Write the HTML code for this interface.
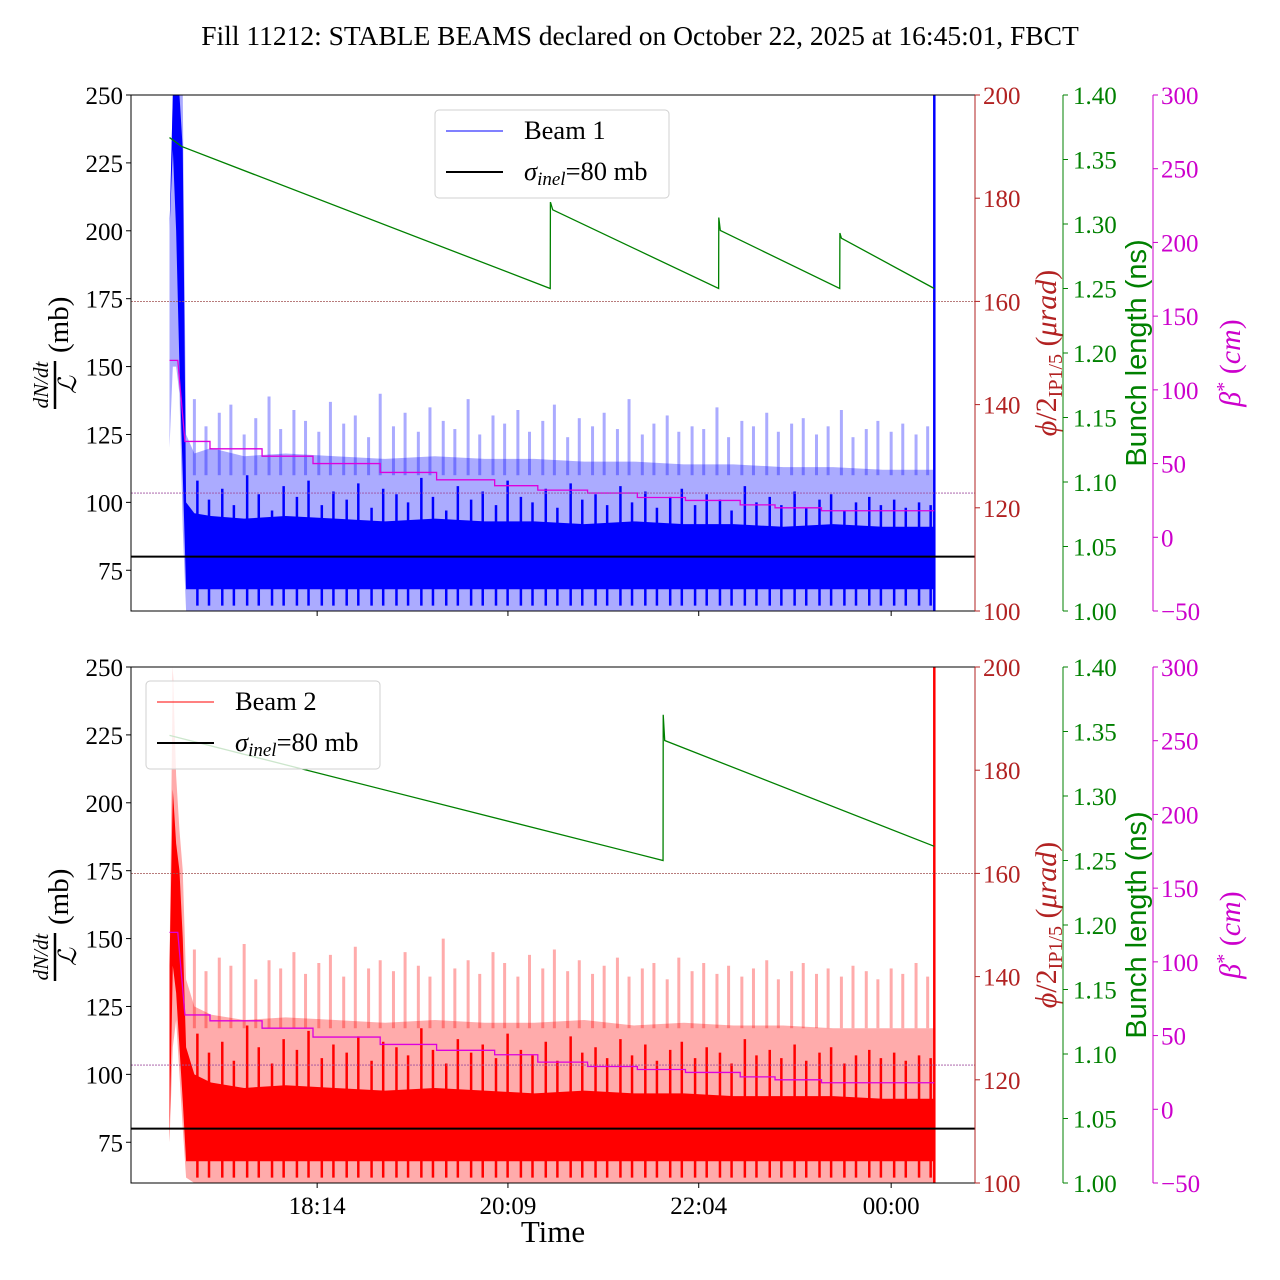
<!DOCTYPE html>
<html><head><meta charset="utf-8">
<style>
html,body{margin:0;padding:0;background:#fff;}
svg{display:block;font-family:"Liberation Serif",serif;}
</style></head>
<body>
<svg id="chart" width="1280" height="1280" viewBox="0 0 1280 1280">
<text x="640" y="45" font-size="27.5" text-anchor="middle">Fill 11212: STABLE BEAMS declared on October 22, 2025 at 16:45:01, FBCT</text>
<text x="553" y="1242" font-size="31" text-anchor="middle">Time</text>
</svg>
<script>
// ---- data (time in minutes since 16:45:01) ----
const xTickLabels = ["18:14","20:09","22:04","00:00"];
const xTickTimes = [89, 204, 319, 435];
const leftTicks = [75,100,125,150,175,200,225,250];
const redTicks = [100,120,140,160,180,200];
const greenTicks = ["1.00","1.05","1.10","1.15","1.20","1.25","1.30","1.35","1.40"];
const magTicks = [-50,0,50,100,150,200,250,300];

const envTimes = [0,2,4,6,8,10,15,25,45,70,100,130,160,190,220,250,280,310,340,370,400,430,455,461];
const b1LightUpper = [200,250,250,250,250,125,118,120,117,118,117,116,117,116,116,115,115,114,114,113,113,112,112,112];
const b1LightLower = [120,150,150,140,90,60,60,60,60,60,60,60,60,60,60,60,60,60,60,60,60,60,60,60];
const b1DarkUpper = [200,250,250,250,230,100,96,95,94,95,94,93,94,93,93,92,93,92,92,91,92,91,91,91];
const b1DarkLower = [200,230,200,150,110,68,68,68,68,68,68,68,68,68,68,68,68,68,68,68,68,68,68,68];
const b2LightUpper = [140,250,210,190,175,135,125,122,120,121,120,119,120,119,119,120,118,119,118,118,117,117,117,117];
const b2LightLower = [75,110,120,100,80,62,60,60,60,60,60,60,60,60,60,60,60,60,60,60,60,60,60,60];
const b2DarkUpper = [140,205,185,175,150,110,100,97,95,96,95,94,95,94,93,94,93,93,92,92,92,91,91,91];
const b2DarkLower = [75,140,130,110,90,68,68,68,68,68,68,68,68,68,68,68,68,68,68,68,68,68,68,68];

const spikeTimes = [15,22,30,37,45,52,60,67,75,82,90,97,105,112,120,127,135,142,150,157,165,172,180,187,195,202,210,217,225,232,240,247,255,262,270,277,285,292,300,307,315,322,330,337,345,352,360,367,375,382,390,397,405,412,420,427,435,442,450,457];
const b1LightSpikes = [138,128,133,136,125,131,139,127,134,130,126,137,129,132,124,140,128,133,126,135,130,127,138,125,132,129,134,126,130,136,124,131,128,133,127,138,125,129,132,126,128,127,135,124,130,128,133,126,129,131,125,128,134,124,127,130,126,129,125,128];
const b1DarkSpikes = [108,101,105,99,110,103,97,106,102,108,99,104,101,107,98,105,103,100,109,102,97,106,101,104,99,108,102,100,105,98,107,101,103,99,106,100,104,98,102,105,99,103,101,97,106,100,102,99,104,98,101,103,97,100,102,99,101,98,100,99];
const b2LightSpikes = [146,138,143,140,148,135,142,139,145,137,141,144,136,147,139,142,138,145,140,136,150,139,142,137,145,141,136,144,139,146,138,142,137,140,143,136,139,141,135,143,138,141,137,140,136,139,142,135,138,141,137,139,136,140,138,135,139,137,141,136];
const b2DarkSpikes = [115,108,112,105,118,110,104,113,109,116,106,111,108,114,105,112,110,107,117,109,104,113,108,111,106,115,109,107,112,105,114,108,110,106,113,107,111,105,109,112,106,110,108,104,113,107,109,106,111,105,108,110,104,107,109,106,108,105,107,106];

const b1GreenT = [0,7.5,229.5,229.6,231,331,331.1,332,404,404.1,405,461];
const b1GreenV = [1.367,1.360,1.250,1.317,1.311,1.250,1.305,1.295,1.250,1.293,1.289,1.250];
const b2GreenT = [0,297.5,297.6,298.5,461];
const b2GreenV = [1.347,1.250,1.363,1.343,1.261];

const betaT = [0,5,9.3,24.4,55.8,86.5,127,161,196,222,252,282,311,344,365,393,461];
const b1Beta = [120,120,65,60,55,50,44,39,35,32,30,27,25,22,20,18,18];
const b2Beta = [120,120,64,60,55,49,44,40,37,32,29,27,25,22,20,18,18];

// ---- layout ----
const svg = document.getElementById('chart');
const NS = 'http://www.w3.org/2000/svg';
const X0 = 131, X1 = 975;
const xs = t => 169.5 + t * 1.659;
function mk(tag, attrs, parent){
  const e = document.createElementNS(NS, tag);
  for (const k in attrs) e.setAttribute(k, attrs[k]);
  (parent || svg).appendChild(e);
  return e;
}
function txt(x,y,s,attrs,parent){
  const e = mk('text', Object.assign({x:x,y:y,'font-size':25}, attrs||{}), parent);
  e.textContent = s; return e;
}

function panel(top, beam){
  const bot = top + 516;
  const g = mk('g', {});
  
  
  const clipId = 'clip' + beam;
  const cp = mk('clipPath', {id: clipId}, g);
  mk('rect', {x:X0, y:top, width:X1-X0, height:516}, cp);
  const yL = v => bot - (v - 60) / 190 * 516;
  const yG = v => bot - (v - 1.0) / 0.4 * 516;
  const yM = v => bot - (v + 50) / 350 * 516;
  const yR = v => bot - (v - 100) / 100 * 516;
  const data = mk('g', {'clip-path': 'url(#' + clipId + ')'}, g);

  const col = beam === 1 ? '#0000ff' : '#ff0000';
  const lu = beam === 1 ? b1LightUpper : b2LightUpper;
  const ll = beam === 1 ? b1LightLower : b2LightLower;
  const du = beam === 1 ? b1DarkUpper : b2DarkUpper;
  const dl = beam === 1 ? b1DarkLower : b2DarkLower;
  const ls = beam === 1 ? b1LightSpikes : b2LightSpikes;
  const ds = beam === 1 ? b1DarkSpikes : b2DarkSpikes;
  function band(up, lo, op, name){
    let pts = envTimes.map((t,i)=> xs(t)+','+yL(up[i]));
    for (let i = envTimes.length-1; i >= 0; i--) pts.push(xs(envTimes[i])+','+yL(lo[i]));
    const p = mk('polygon', {points: pts.join(' '), fill: col, 'fill-opacity': op}, data);
    
    
  }
  band(lu, ll, 0.33, 'beam-' + beam + '-raw-band');
  spikeTimes.forEach((t,i)=>{
    const l = mk('line', {x1:xs(t), x2:xs(t), y1:yL(ls[i]), y2:yL(lu[6]-8), stroke: col, 'stroke-opacity':0.33, 'stroke-width':3}, data);
    
    
  });
  band(du, dl, 1, 'beam-' + beam + '-smoothed-band');
  spikeTimes.forEach((t,i)=>{
    const l = mk('line', {x1:xs(t)+3, x2:xs(t)+3, y1:yL(ds[i]), y2:yL(dl[6]-6), stroke: col, 'stroke-width':2.5}, data);
    
    
  });
  const ev = mk('line', {x1:xs(461), x2:xs(461), y1:top, y2:bot, stroke: col, 'stroke-width':2.5}, data);
  
  

  const h1 = mk('line', {x1:X0, x2:X1, y1:yR(160), y2:yR(160), stroke:'#a05050', 'stroke-width':0.8, 'stroke-dasharray':'2,1'}, g);
  
  
  const h2 = mk('line', {x1:X0, x2:X1, y1:yM(30), y2:yM(30), stroke:'#a050a0', 'stroke-width':0.8, 'stroke-dasharray':'2,1'}, g);
  
  

  const s = mk('line', {x1:X0, x2:X1, y1:yL(80), y2:yL(80), stroke:'#000', 'stroke-width':2}, g);
  
  

  const bv = beam === 1 ? b1Beta : b2Beta;
  let d = '';
  betaT.forEach((t,i)=>{
    if (i === 0) d += 'M' + xs(t) + ',' + yM(bv[i]);
    else if (i === 2) d += 'L' + xs(t) + ',' + yM(bv[i]);
    else d += 'L' + xs(t) + ',' + yM(bv[i-1]) + 'L' + xs(t) + ',' + yM(bv[i]);
  });
  const bp = mk('path', {d: d, fill:'none', stroke:'#dd00dd', 'stroke-width':1.3}, data);
  
  

  const gt = beam === 1 ? b1GreenT : b2GreenT;
  const gv = beam === 1 ? b1GreenV : b2GreenV;
  const gp = mk('polyline', {points: gt.map((t,i)=> xs(t)+','+yG(gv[i])).join(' '), fill:'none', stroke:'#008000', 'stroke-width':1.3}, data);
  
  

  const fr = mk('rect', {x:X0, y:top, width:X1-X0, height:516, fill:'none', stroke:'#000', 'stroke-width':1}, g);
  
  

  leftTicks.forEach(v=>{
    const y = yL(v);
    mk('line', {x1:X0-5, x2:X0, y1:y, y2:y, stroke:'#000'}, g);
    const t = txt(X0-8, y+9, String(v), {'text-anchor':'end'}, g);
    
    
  });
  redTicks.forEach(v=>{
    const y = yR(v);
    mk('line', {x1:X1, x2:X1+5, y1:y, y2:y, stroke:'#b22222'}, g);
    const t = txt(X1+8, y+9, String(v), {fill:'#b22222'}, g);
    
    
  });
  mk('line', {x1:X1, x2:X1, y1:top, y2:bot, stroke:'#b22222'}, g);
  const GX = 1063;
  mk('line', {x1:GX, x2:GX, y1:top, y2:bot, stroke:'#008000'}, g);
  greenTicks.forEach(v=>{
    const y = yG(parseFloat(v));
    mk('line', {x1:GX, x2:GX+5, y1:y, y2:y, stroke:'#008000'}, g);
    const t = txt(GX+10, y+9, v, {fill:'#008000'}, g);
    
    
  });
  const MX = 1153;
  mk('line', {x1:MX, x2:MX, y1:top, y2:bot, stroke:'#cc00cc'}, g);
  magTicks.forEach(v=>{
    const y = yM(v);
    mk('line', {x1:MX, x2:MX+5, y1:y, y2:y, stroke:'#cc00cc'}, g);
    const t = txt(MX+8, y+9, v < 0 ? '\u2212' + Math.abs(v) : String(v), {fill:'#cc00cc'}, g);
    
    
  });
  xTickTimes.forEach((tm,i)=>{
    const x = xs(tm);
    mk('line', {x1:x, x2:x, y1:bot, y2:bot+5, stroke:'#000'}, g);
    if (beam === 2) {
      const t = txt(x, bot+31, xTickLabels[i], {'text-anchor':'middle'}, g);
      
      
    }
  });

  const cy = top + 258;
  const lt = mk('g', {transform:'translate(60,'+(cy+4)+') rotate(-90)'}, g);
  
  
  txt(-28, -12, 'dN/dt', {'font-size':21, 'font-style':'italic', 'text-anchor':'middle'}, lt);
  mk('line', {x1:-52, x2:-4, y1:-5, y2:-5, stroke:'#000', 'stroke-width':2.5}, lt);
  txt(-28, 16, '\u2112', {'font-size':25, 'font-style':'italic', 'text-anchor':'middle'}, lt);
  txt(4, 8, '(mb)', {'font-size':29}, lt);

  const rt = txt(0, 0, '', {'font-size':30, fill:'#b22222', 'text-anchor':'middle', transform:'translate(1056,'+cy+') rotate(-90)'}, g);
  rt.innerHTML = '<tspan font-style="italic">\u03d5</tspan>/2<tspan font-size="20" dy="6">IP1/5</tspan><tspan dy="-6"> (</tspan><tspan font-style="italic">\u03bcrad</tspan>)';
  
  
  const gtl = txt(0, 0, 'Bunch length (ns)', {'font-size':29, fill:'#008000', 'text-anchor':'middle', 'font-family':'"Liberation Sans",sans-serif', transform:'translate(1146,'+cy+') rotate(-90)'}, g);
  
  
  const mt = txt(0, 0, '', {'font-size':30, fill:'#cc00cc', 'text-anchor':'middle', transform:'translate(1240,'+(cy+10)+') rotate(-90)'}, g);
  mt.innerHTML = '<tspan font-style="italic">\u03b2</tspan><tspan font-size="20" dy="-10">*</tspan><tspan dy="10"> (</tspan><tspan font-style="italic">cm</tspan>)';
  
  

  const lx = beam === 1 ? 435 : 146, ly = beam === 1 ? 110 : 681;
  const lg = mk('g', {}, g);
  
  
  mk('rect', {x:lx, y:ly, width:234, height:88, rx:4, fill:'#fff', 'fill-opacity':0.8, stroke:'#d0d0d0'}, lg);
  mk('line', {x1:lx+11, x2:lx+68, y1:ly+21, y2:ly+21, stroke:col, 'stroke-width':1}, lg);
  const e1 = txt(lx+89, ly+29, 'Beam ' + beam, {'font-size':26.5}, lg);
  
  
  mk('line', {x1:lx+11, x2:lx+68, y1:ly+62, y2:ly+62, stroke:'#000', 'stroke-width':2}, lg);
  const e2 = txt(lx+89, ly+70, '', {'font-size':26.5}, lg);
  e2.innerHTML = '<tspan font-style="italic">\u03c3</tspan><tspan font-style="italic" font-size="19" dy="5">inel</tspan><tspan dy="-5">=80 mb</tspan>';
  
  
}
panel(95, 1);
panel(667, 2);
</script>
</body></html>
